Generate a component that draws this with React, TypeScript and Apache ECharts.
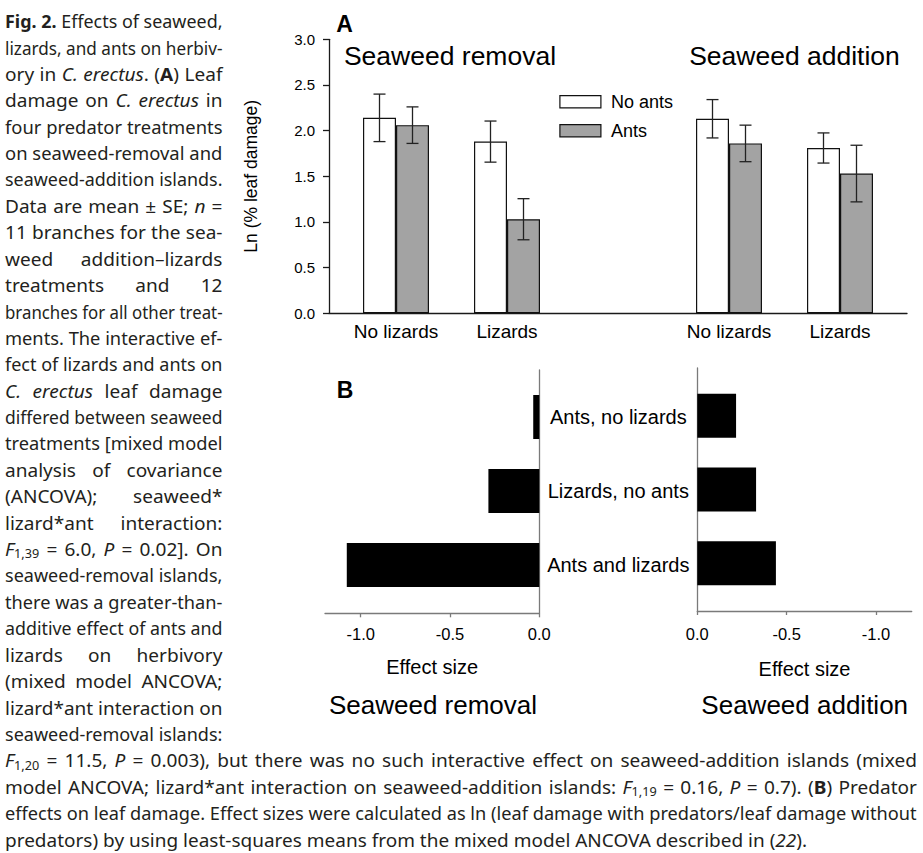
import React, { useEffect, useRef } from "react";
import * as echarts from "echarts";

// ---------- data ----------
const groupIds = ["rNL", "rL", "gap", "aNL", "aL"];
const groupLabels = ["No lizards", "Lizards", "", "No lizards", "Lizards"];
const noAnts = [2.14, 1.88, null, 2.13, 1.81];
const noAntsSE = [0.26, 0.225, null, 0.21, 0.165];
const ants = [2.06, 1.03, null, 1.86, 1.53];
const antsSE = [0.2, 0.225, null, 0.2, 0.31];
const legendNames = ["No ants", "Ants"];

const effectCats = ["Ants, no lizards", "Lizards, no ants", "Ants and lizards"];
const effectRemoval = [-0.034, -0.285, -1.078];
const effectAddition = [-0.217, -0.329, -0.44];
const effectTicks = [-1.0, -0.5, 0.0];

const captionLines = [
  "<b>Fig. 2.</b> Effects of seaweed,",
  "lizards, and ants on herbiv-",
  "ory in <i>C. erectus</i>. (<b>A</b>) Leaf",
  "damage on <i>C. erectus</i> in",
  "four predator treatments",
  "on seaweed-removal and",
  "seaweed-addition islands.",
  "Data are mean ± SE; <i>n</i> =",
  "11 branches for the sea-",
  "weed addition–lizards",
  "treatments and 12",
  "branches for all other treat-",
  "ments. The interactive ef-",
  "fect of lizards and ants on",
  "<i>C. erectus</i> leaf damage",
  "differed between seaweed",
  "treatments [mixed model",
  "analysis of covariance",
  "(ANCOVA); seaweed*",
  "lizard*ant interaction:",
  "<i>F</i><s>1,39</s> = 6.0, <i>P</i> = 0.02]. On",
  "seaweed-removal islands,",
  "there was a greater-than-",
  "additive effect of ants and",
  "lizards on herbivory",
  "(mixed model ANCOVA;",
  "lizard*ant interaction on",
  "seaweed-removal islands:",
  "<i>F</i><s>1,20</s> = 11.5, <i>P</i> = 0.003), but there was no such interactive effect on seaweed-addition islands (mixed",
  "model ANCOVA; lizard*ant interaction on seaweed-addition islands: <i>F</i><s>1,19</s> = 0.16, <i>P</i> = 0.7). (<b>B</b>) Predator",
  "effects on leaf damage. Effect sizes were calculated as ln (leaf damage with predators/leaf damage without",
  "predators) by using least-squares means from the mixed model ANCOVA described in (<i>22</i>).",
];

// ---------- styling constants ----------
const W = 923;
const H = 853;
const PANEL_FONT = "'Liberation Sans', Arial, sans-serif";
const CAP_FAMILY = "Noto Sans";
const CAP_FONT = "'Noto Sans', 'Open Sans', sans-serif";
const CAP_SIZE = 18;
const SUB_SIZE = 12;
const CAP_COLOR = "#231f20";
const BAR_W = 33;
const CAP_W = 12;
const S_FIX = 1.06;

type Seg = { t: string; s: string };

function parseLine(line: string): Seg[] {
  const out: Seg[] = [];
  const re = /<(b|i|s)>(.*?)<\/\1>/g;
  let last = 0;
  let m: RegExpExecArray | null;
  while ((m = re.exec(line))) {
    if (m.index > last) out.push({ t: line.slice(last, m.index), s: "n" });
    out.push({ t: m[2], s: m[1] });
    last = re.lastIndex;
  }
  if (last < line.length) out.push({ t: line.slice(last), s: "n" });
  return out;
}

function buildCaption(): any[] {
  const canvas = document.createElement("canvas");
  const ctx = canvas.getContext("2d") as CanvasRenderingContext2D;
  const fontFor = (s: string) => {
    if (s === "b") return `bold ${CAP_SIZE}px '${CAP_FAMILY}'`;
    if (s === "i") return `italic ${CAP_SIZE}px '${CAP_FAMILY}'`;
    if (s === "s") return `${SUB_SIZE}px '${CAP_FAMILY}'`;
    return `${CAP_SIZE}px '${CAP_FAMILY}'`;
  };
  const measure = (t: string, s: string) => {
    ctx.font = fontFor(s);
    return ctx.measureText(t).width;
  };
  const base = { fontFamily: CAP_FONT, fontSize: CAP_SIZE, fill: CAP_COLOR, lineHeight: 22 };
  return captionLines.map((line, i) => {
    const segs = parseLine(line);
    const tokens: Seg[] = [];
    segs.forEach((seg) => {
      if (seg.s === "s") {
        tokens.push(seg);
        return;
      }
      const parts = seg.t.split(" ");
      parts.forEach((p, k) => {
        if (k > 0) tokens.push({ t: " ", s: "sp" });
        if (p) tokens.push({ t: p, s: seg.s });
      });
    });
    let wordsW = 0;
    let nSp = 0;
    tokens.forEach((tk) => {
      if (tk.s === "sp") nSp++;
      else wordsW += measure(tk.t, tk.s);
    });
    const spW = measure(" ", "n");
    const natural = wordsW + nSp * spW;
    const target = i < 28 ? 217.5 : i < 31 ? 912 : 802;
    let scale = target / natural;
    let spaceW = spW;
    if (scale > S_FIX && nSp > 0) {
      scale = S_FIX;
      spaceW = (target / scale - wordsW) / nSp;
    }
    const text = tokens.map((tk) => `{${tk.s}|${tk.t}}`).join("");
    return {
      type: "text",
      x: 5,
      y: 21 + i * 26.4,
      scaleX: scale,
      silent: true,
      style: {
        text,
        align: "left",
        verticalAlign: "middle",
        ...base,
        rich: {
          n: { ...base },
          b: { ...base, fontWeight: "bold" },
          i: { ...base, fontStyle: "italic" },
          s: { fontFamily: CAP_FONT, fontSize: SUB_SIZE, fill: CAP_COLOR, lineHeight: 10, verticalAlign: "bottom" },
          sp: { ...base, width: spaceW },
        },
      },
    };
  });
}

function panelText(text: string, x: number, y: number, size: number, bold = false) {
  return {
    type: "text",
    x,
    y,
    silent: true,
    style: {
      text,
      fontFamily: PANEL_FONT,
      fontSize: size,
      fontWeight: bold ? "bold" : "normal",
      fill: "#000",
      align: "center",
      verticalAlign: "middle",
    },
  };
}

export default function App() {
  const ref = useRef<HTMLDivElement>(null);

  useEffect(() => {
    document.body.style.margin = "0";
    const chart = echarts.init(ref.current as HTMLDivElement, null, { renderer: "svg", width: W, height: H });

    const errData: number[][] = [];
    [noAnts, ants].forEach((vals, side) => {
      const ses = side === 0 ? noAntsSE : antsSE;
      vals.forEach((v, k) => {
        if (v != null && ses[k] != null) errData.push([k, side, v as number, ses[k] as number]);
      });
    });

    const greyAxis = { show: true, onZero: false, lineStyle: { color: "#7a7a7a", width: 1.3 } };
    const darkAxis = { show: true, onZero: false, lineStyle: { color: "#1a1a1a", width: 1.3 } };
    const fmt1 = (v: number) => (Math.abs(v) < 1e-9 ? "0.0" : v.toFixed(1));

    const option: any = {
      animation: false,
      backgroundColor: "#fff",
      textStyle: { fontFamily: PANEL_FONT },
      grid: [
        { left: 340.5, top: 39.3, width: 555, height: 274 },
        { left: 329, top: 39.3, width: 578, height: 274 },
        { left: 325, top: 370, width: 214.3, height: 243.3 },
        { left: 325, top: 380, width: 214.3, height: 222 },
        { left: 697.3, top: 368, width: 214.4, height: 243 },
        { left: 697.3, top: 378.9, width: 214.4, height: 221.3 },
      ],
      legend: {
        data: [
          { name: legendNames[0], itemStyle: { color: "#fff", borderColor: "#111", borderWidth: 1.2 } },
          { name: legendNames[1], itemStyle: { color: "#a3a3a3", borderColor: "#111", borderWidth: 1.2 } },
        ],
        orient: "vertical",
        left: 559.3,
        top: 92.7,
        padding: 0,
        icon: "rect",
        itemWidth: 41,
        itemHeight: 12.3,
        itemGap: 11,
        selectedMode: false,
        textStyle: { fontSize: 18, color: "#000", fontFamily: PANEL_FONT, padding: [0, 0, 0, 5] },
      },
      xAxis: [
        {
          gridIndex: 0,
          type: "category",
          data: groupIds,
          axisLine: { show: false },
          axisTick: { show: false },
          axisLabel: {
            margin: 9,
            fontSize: 19,
            color: "#000",
            fontFamily: PANEL_FONT,
            formatter: (_v: string, idx: number) => groupLabels[idx],
          },
          splitLine: { show: false },
        },
        {
          gridIndex: 1,
          type: "value",
          min: 0,
          max: 1,
          axisLine: darkAxis,
          axisTick: { show: false },
          axisLabel: { show: false },
          splitLine: { show: false },
        },
        {
          gridIndex: 2,
          type: "value",
          min: -1.2,
          max: 0,
          axisLine: greyAxis,
          axisTick: { show: true, length: 4, customValues: effectTicks, lineStyle: { color: "#7a7a7a", width: 1.3 } },
          axisLabel: { customValues: effectTicks, formatter: fmt1, fontSize: 16.5, color: "#000", margin: 12 },
          splitLine: { show: false },
          name: "Effect size",
          nameLocation: "middle",
          nameGap: 44,
          nameTextStyle: { fontSize: 20, color: "#000", fontFamily: PANEL_FONT },
        },
        { gridIndex: 3, type: "value", min: -1.2, max: 0, show: false },
        {
          gridIndex: 4,
          type: "value",
          min: -1.2,
          max: 0,
          inverse: true,
          axisLine: greyAxis,
          axisTick: { show: true, length: 4, customValues: effectTicks, lineStyle: { color: "#7a7a7a", width: 1.3 } },
          axisLabel: { customValues: effectTicks, formatter: fmt1, fontSize: 16.5, color: "#000", margin: 14 },
          splitLine: { show: false },
          name: "Effect size",
          nameLocation: "middle",
          nameGap: 48,
          nameTextStyle: { fontSize: 20, color: "#000", fontFamily: PANEL_FONT },
        },
        { gridIndex: 5, type: "value", min: -1.2, max: 0, inverse: true, show: false },
      ],
      yAxis: [
        {
          gridIndex: 0,
          type: "value",
          min: 0,
          max: 3,
          interval: 0.5,
          offset: 11.5,
          axisLine: darkAxis,
          axisTick: { show: true, length: 6, lineStyle: { color: "#1a1a1a", width: 1.3 } },
          axisLabel: { formatter: fmt1, fontSize: 15, color: "#000", margin: 14 },
          splitLine: { show: false },
          name: "Ln (% leaf damage)",
          nameLocation: "middle",
          nameGap: 69,
          nameTextStyle: { fontSize: 17.5, color: "#000", fontFamily: PANEL_FONT },
        },
        { gridIndex: 1, type: "value", min: 0, max: 1, show: false },
        {
          gridIndex: 2,
          type: "value",
          min: 0,
          max: 1,
          position: "right",
          axisLine: greyAxis,
          axisTick: { show: false },
          axisLabel: { show: false },
          splitLine: { show: false },
        },
        {
          gridIndex: 3,
          type: "category",
          data: effectCats,
          inverse: true,
          position: "right",
          axisLine: { show: false, onZero: false },
          axisTick: { show: false },
          axisLabel: { align: "center", margin: 79, fontSize: 20, color: "#000", fontFamily: PANEL_FONT },
          splitLine: { show: false },
        },
        {
          gridIndex: 4,
          type: "value",
          min: 0,
          max: 1,
          position: "left",
          axisLine: greyAxis,
          axisTick: { show: false },
          axisLabel: { show: false },
          splitLine: { show: false },
        },
        { gridIndex: 5, type: "category", data: effectCats, inverse: true, show: false },
      ],
      series: [
        {
          name: legendNames[0],
          type: "bar",
          xAxisIndex: 0,
          yAxisIndex: 0,
          data: noAnts,
          barWidth: BAR_W,
          barGap: "0%",
          itemStyle: { color: "#fff", borderColor: "#111", borderWidth: 1.2 },
        },
        {
          name: legendNames[1],
          type: "bar",
          xAxisIndex: 0,
          yAxisIndex: 0,
          data: ants,
          barWidth: BAR_W,
          barGap: "0%",
          itemStyle: { color: "#a3a3a3", borderColor: "#111", borderWidth: 1.2 },
        },
        {
          type: "custom",
          xAxisIndex: 0,
          yAxisIndex: 0,
          data: errData,
          encode: { x: 0, y: 2 },
          z: 10,
          silent: true,
          renderItem: (_p: any, api: any) => {
            const c = api.value(0);
            const side = api.value(1);
            const m = api.value(2);
            const se = api.value(3);
            const top = api.coord([c, m + se]);
            const bot = api.coord([c, m - se]);
            const x = top[0] + (side === 0 ? -1 : 1) * (BAR_W / 2);
            const hw = CAP_W / 2;
            const st = { stroke: "#222", lineWidth: 1.3 };
            return {
              type: "group",
              children: [
                { type: "line", shape: { x1: x, y1: top[1], x2: x, y2: bot[1] }, style: st },
                { type: "line", shape: { x1: x - hw, y1: top[1], x2: x + hw, y2: top[1] }, style: st },
                { type: "line", shape: { x1: x - hw, y1: bot[1], x2: x + hw, y2: bot[1] }, style: st },
              ],
            };
          },
        },
        {
          type: "bar",
          xAxisIndex: 3,
          yAxisIndex: 3,
          data: effectRemoval,
          barWidth: 44,
          itemStyle: { color: "#000" },
        },
        {
          type: "bar",
          xAxisIndex: 5,
          yAxisIndex: 5,
          data: effectAddition,
          barWidth: 44,
          itemStyle: { color: "#000" },
        },
      ],
      graphic: [
        panelText("A", 344.5, 23.5, 23, true),
        panelText("B", 345, 390, 23, true),
        panelText("Seaweed removal", 450, 56, 26.5),
        panelText("Seaweed addition", 794.5, 56, 26.5),
        panelText("Seaweed removal", 433, 704.5, 26),
        panelText("Seaweed addition", 804.7, 704.5, 26),
        ...buildCaption(),
      ],
    };

    chart.setOption(option);
    return () => chart.dispose();
  }, []);

  return <div ref={ref} style={{ width: W, height: H }} />;
}
